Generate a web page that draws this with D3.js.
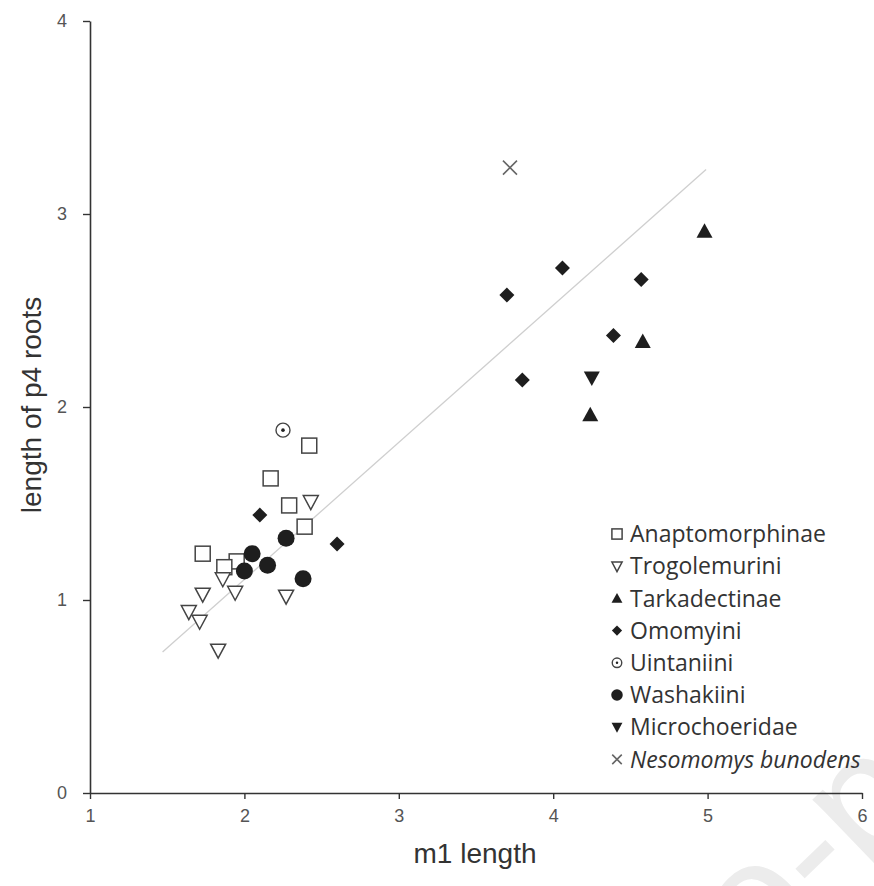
<!DOCTYPE html>
<html>
<head>
<meta charset="utf-8">
<script src="https://cdn.jsdelivr.net/npm/d3@7"></script>
<style>
  html, body { margin: 0; padding: 0; background: #fff; }
  svg { display: block; }
</style>
</head>
<body>
<svg id="chart" width="874" height="886"></svg>
<script>
// data
const anaX = [2.42, 2.17, 2.29, 2.39, 1.73, 1.95, 1.87];
const anaY = [1.80, 1.63, 1.49, 1.38, 1.24, 1.20, 1.17];
const troX = [2.43, 1.86, 1.94, 1.73, 1.64, 1.71, 2.27, 1.83];
const troY = [1.51, 1.11, 1.04, 1.03, 0.94, 0.89, 1.02, 0.74];
const tarX = [4.98, 4.58, 4.24];
const tarY = [2.91, 2.34, 1.96];
const omoX = [2.10, 2.60, 3.70, 4.06, 4.57, 4.39, 3.80];
const omoY = [1.44, 1.29, 2.58, 2.72, 2.66, 2.37, 2.14];
const uinX = [2.25];
const uinY = [1.88];
const wasX = [2.27, 2.05, 2.15, 2.00, 2.38];
const wasY = [1.32, 1.24, 1.18, 1.15, 1.11];
const micX = [4.25];
const micY = [2.15];
const nesX = [3.72];
const nesY = [3.24];
const fitX = [1.47, 4.99];
const fitY = [0.73, 3.23];

const xTicks = [1, 2, 3, 4, 5, 6];
const yTicks = [0, 1, 2, 3, 4];

const groups = [
  {name: "Anaptomorphinae", xs: anaX, ys: anaY, shape: "square"},
  {name: "Trogolemurini", xs: troX, ys: troY, shape: "triDownOpen"},
  {name: "Tarkadectinae", xs: tarX, ys: tarY, shape: "triUp"},
  {name: "Omomyini", xs: omoX, ys: omoY, shape: "diamond"},
  {name: "Uintaniini", xs: uinX, ys: uinY, shape: "dotCircle"},
  {name: "Washakiini", xs: wasX, ys: wasY, shape: "circle"},
  {name: "Microchoeridae", xs: micX, ys: micY, shape: "triDown"},
  {name: "Nesomomys bunodens", xs: nesX, ys: nesY, shape: "cross", italic: true}
];

const svg = d3.select("#chart");

const x = d3.scaleLinear().domain([1, 6]).range([90, 862]);
const y = d3.scaleLinear().domain([0, 4]).range([793, 21]);

// faint watermark in the lower right corner
svg.append("text")
  .attr("id", "wm")
  .attr("font-family", "Liberation Sans, Arial, sans-serif")
  .attr("font-size", 170)
  .attr("fill", "#ececec")
  .text("Journal Pre-proof");
{
  const wm = svg.select("#wm").node();
  const s = wm.textContent;
  const i = s.indexOf("-");
  const before = wm.getSubStringLength(0, i);
  const dash = wm.getSubStringLength(i, 1);
  d3.select(wm)
    .attr("x", -(before + dash / 2))
    .attr("y", 0.3 * 170)
    .attr("transform", "translate(811,855) rotate(-44)");
}

// draw one marker of a given shape, scaled by k
function marker(g, shape, k) {
  if (shape === "square") {
    g.append("rect").attr("x", -7.5 * k).attr("y", -7.5 * k)
      .attr("width", 15 * k).attr("height", 15 * k)
      .attr("fill", "#fff").attr("stroke", "#444").attr("stroke-width", 1.5);
  } else if (shape === "triDownOpen") {
    g.append("path").attr("d", `M${-7.5*k},${-6*k}L${7.5*k},${-6*k}L0,${8*k}Z`)
      .attr("fill", "#fff").attr("stroke", "#444").attr("stroke-width", 1.5);
  } else if (shape === "triUp") {
    g.append("path").attr("d", `M${-8*k},${6.5*k}L${8*k},${6.5*k}L0,${-8*k}Z`)
      .attr("fill", "#1e1e1e");
  } else if (shape === "triDown") {
    g.append("path").attr("d", `M${-8*k},${-6.5*k}L${8*k},${-6.5*k}L0,${8*k}Z`)
      .attr("fill", "#1e1e1e");
  } else if (shape === "diamond") {
    g.append("path").attr("d", `M0,${-7.5*k}L${7.5*k},0L0,${7.5*k}L${-7.5*k},0Z`)
      .attr("fill", "#1e1e1e");
  } else if (shape === "circle") {
    g.append("circle").attr("r", 8.5 * k).attr("fill", "#1e1e1e");
  } else if (shape === "dotCircle") {
    g.append("circle").attr("r", 7 * k)
      .attr("fill", "#fff").attr("stroke", "#444").attr("stroke-width", 1.4);
    g.append("circle").attr("r", 1.8 * k).attr("fill", "#222");
  } else if (shape === "cross") {
    g.append("path").attr("d", `M${-7*k},${-7*k}L${7*k},${7*k}M${-7*k},${7*k}L${7*k},${-7*k}`)
      .attr("fill", "none").attr("stroke", "#666").attr("stroke-width", 1.6);
  }
}

// regression line
svg.append("line")
  .attr("x1", x(fitX[0])).attr("y1", y(fitY[0]))
  .attr("x2", x(fitX[1])).attr("y2", y(fitY[1]))
  .attr("stroke", "#cfcfcf").attr("stroke-width", 1.3);

// axes
const xAxis = svg.append("g")
  .attr("transform", `translate(0,${y(0)})`)
  .call(d3.axisBottom(x).tickValues(xTicks).tickFormat(d3.format("d"))
    .tickSizeInner(6).tickSizeOuter(0).tickPadding(10));
const yAxis = svg.append("g")
  .attr("transform", `translate(${x(1)},0)`)
  .call(d3.axisLeft(y).tickValues(yTicks).tickFormat(d3.format("d"))
    .tickSizeInner(7).tickSizeOuter(0).tickPadding(16));

[xAxis, yAxis].forEach(a => {
  a.attr("font-size", 18).attr("font-family", "Liberation Sans, Arial, sans-serif");
  a.select(".domain").attr("stroke", "#333").attr("stroke-width", 1.6);
  a.selectAll(".tick line").attr("stroke", "#333").attr("stroke-width", 1.4);
  a.selectAll(".tick text").attr("fill", "#555");
});

// points, in legend order
groups.forEach(gr => {
  gr.xs.forEach((v, i) => {
    const g = svg.append("g").attr("transform", `translate(${x(v)},${y(gr.ys[i])})`);
    marker(g, gr.shape, 1);
  });
});

// axis titles
svg.append("text")
  .attr("x", 475).attr("y", 863)
  .attr("text-anchor", "middle")
  .attr("font-family", "Liberation Sans, Arial, sans-serif")
  .attr("font-size", 28).attr("fill", "#333")
  .text("m1 length");
svg.append("text")
  .attr("transform", "translate(41,405) rotate(-90)")
  .attr("text-anchor", "middle")
  .attr("font-family", "Liberation Sans, Arial, sans-serif")
  .attr("font-size", 28).attr("fill", "#333")
  .text("length of p4 roots");

// legend
const legend = svg.append("g");
groups.forEach((gr, i) => {
  const row = legend.append("g").attr("transform", `translate(617,${534 + i * 32.2})`);
  marker(row, gr.shape, 0.68);
  row.append("text")
    .attr("x", 13).attr("dy", "0.36em")
    .attr("font-family", "Open Sans, sans-serif")
    .attr("font-size", 23)
    .attr("font-style", gr.italic ? "italic" : "normal")
    .attr("fill", "#333")
    .text(gr.name);
});
</script>
</body>
</html>
